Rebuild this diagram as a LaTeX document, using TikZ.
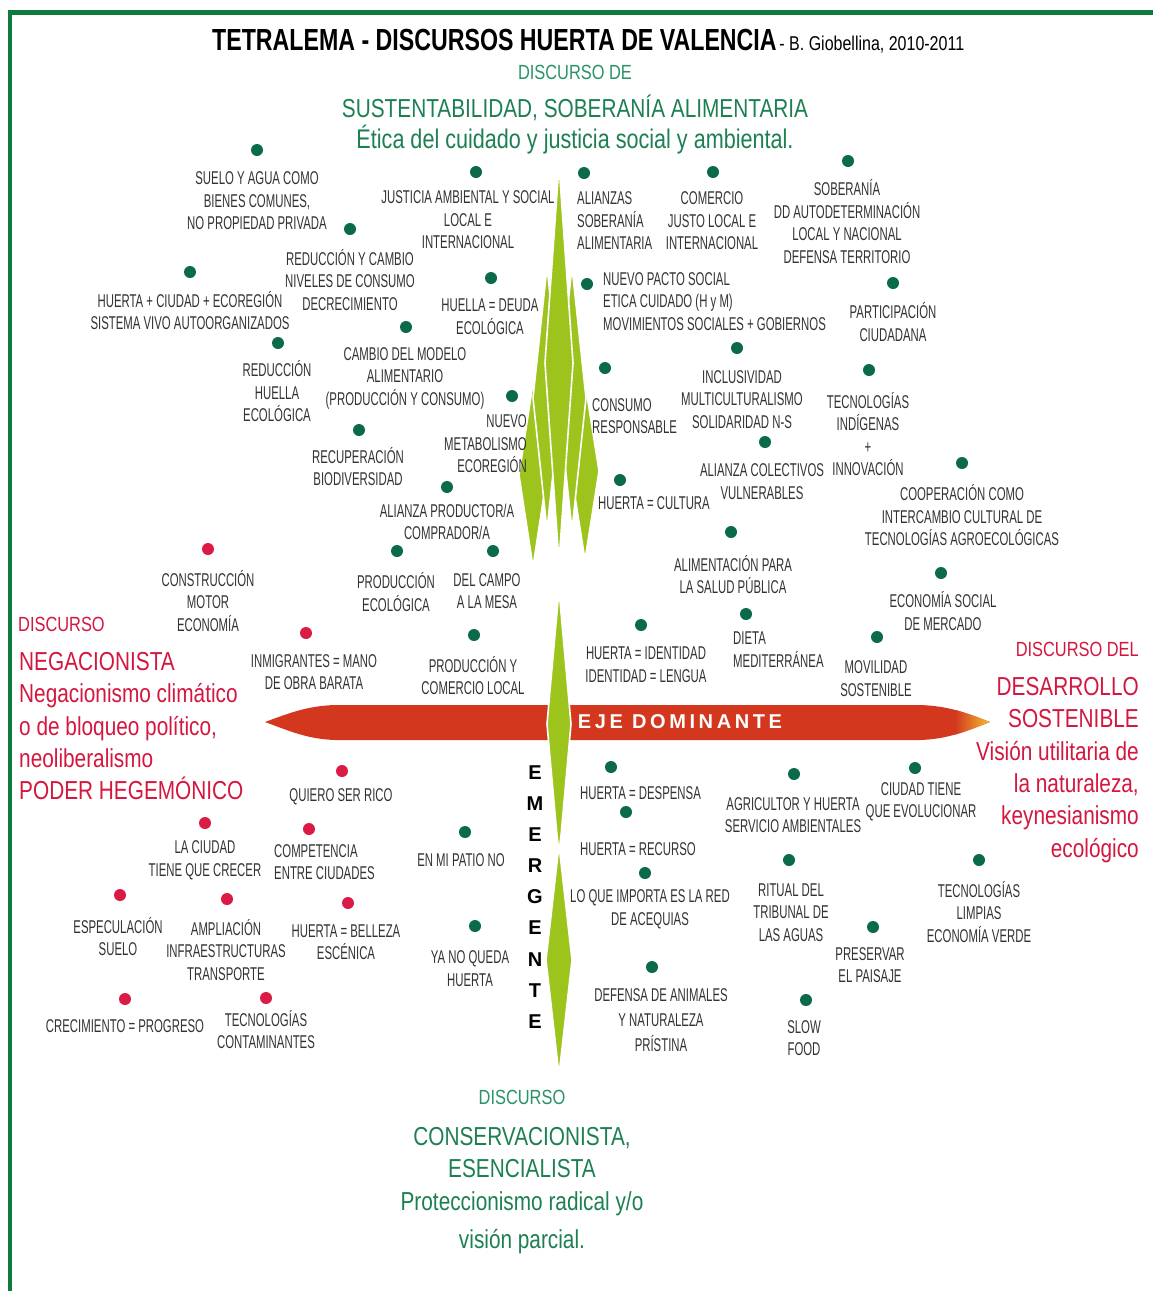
\documentclass[tikz,border=0pt]{standalone}
\usepackage{fontspec}
\setmainfont{Liberation Sans}
\newfontfamily\lblfont[FakeStretch=0.615]{Liberation Sans}
\newfontfamily\dispfont[FakeStretch=0.8]{Liberation Sans}
\newfontfamily\titfont[FakeStretch=0.76]{Liberation Sans}
\newfontfamily\ejefont[LetterSpace=18]{Liberation Sans}
\definecolor{framegreen}{HTML}{0E7A3E}
\definecolor{dotgreen}{HTML}{0B6A47}
\definecolor{headgreen}{HTML}{1C8052}
\definecolor{subgreen}{HTML}{2A9466}
\definecolor{dotred}{HTML}{DA1B45}
\definecolor{txtred}{HTML}{D4173F}
\definecolor{lblgray}{HTML}{333333}
\definecolor{spindle}{HTML}{9CC41C}
\definecolor{arrowred}{HTML}{D3381F}
\definecolor{tipyellow}{HTML}{F6C530}
\begin{document}
\begin{tikzpicture}[x=1pt,y=-1pt,
  dotG/.style={circle,fill=dotgreen,inner sep=0pt,minimum size=12pt},
  dotR/.style={circle,fill=dotred,inner sep=0pt,minimum size=12pt},
  lbl/.style={font={\lblfont\fontsize{18.5}{22.5}\selectfont},text=lblgray,align=center,inner sep=0pt},
  lblL/.style={lbl,align=left,anchor=west},
  lblR/.style={lbl,align=right,anchor=east},
  spin/.style={fill=spindle,draw=white,line width=1.6pt,line join=miter},
  disp/.style={font={\dispfont\fontsize{26}{32.4}\selectfont},inner sep=0pt},
  dispsmall/.style={font={\dispfont\fontsize{20.5}{24}\selectfont},inner sep=0pt}]
\useasboundingbox (0,0) rectangle (1153,1291);
\fill[white] (0,0) rectangle (1153,1291);
% frame
\draw[framegreen,line width=5pt] (8,12) -- (1153,12);
\draw[framegreen,line width=4pt] (10,10) -- (10,1291);

% title
\node[anchor=base west,inner sep=0pt,text=black] (title) at (212,50)
  {{\titfont\bfseries\fontsize{30.5}{34}\selectfont TETRALEMA - DISCURSOS HUERTA DE VALENCIA} {\dispfont\fontsize{20}{22}\selectfont - B. Giobellina, 2010-2011}};
\node[dispsmall,text=subgreen,anchor=base] (topdisc) at (575,79) {DISCURSO DE};
\node[disp,text=headgreen,anchor=base] (tophead) at (575,117) {SUSTENTABILIDAD, SOBERANÍA ALIMENTARIA};
\node[disp,font={\dispfont\fontsize{27}{30}\selectfont},text=headgreen,anchor=base] (topsub) at (575,148) {Ética del cuidado y justicia social y ambiental.};

% upper green spindles
\path[spin] (533,383) -- (547,475) -- (533,567) -- (519,475) -- cycle;
\path[spin] (585,383) -- (599,471) -- (585,560) -- (571,471) -- cycle;
\path[spin] (547,267) -- (561,398) -- (547,530) -- (533,398) -- cycle;
\path[spin] (572,267) -- (586,398) -- (572,530) -- (558,398) -- cycle;
\path[spin] (559,165) -- (573,363) -- (559,562) -- (545,363) -- cycle;

% red arrow
\fill[arrowred] (265,722) .. controls (292,712) and (308,706) .. (335,705) -- (920,705)
  .. controls (948,706) and (964,712) .. (990,722) .. controls (964,732) and (948,739) .. (920,740)
  -- (335,740) .. controls (308,739) and (292,732) .. (265,722) -- cycle;
\begin{scope}
\clip (265,722) .. controls (292,712) and (308,706) .. (335,705) -- (920,705)
  .. controls (948,706) and (964,712) .. (990,722) .. controls (964,732) and (948,739) .. (920,740)
  -- (335,740) .. controls (308,739) and (292,732) .. (265,722) -- cycle;
\shade[left color=arrowred,right color=tipyellow] (955,700) rectangle (992,745);
\end{scope}

% lower green spindles
\path[spin] (559,590) -- (571,724) -- (559,858) -- (547,724) -- cycle;
\path[spin] (559,845) -- (572,960) -- (559,1075) -- (546,960) -- cycle;

\node[font={\ejefont\bfseries\fontsize{20}{24}\selectfont},text=white,inner sep=0pt] (eje) at (680,722) {EJE DOMINANTE};
\node[font={\bfseries\fontsize{20}{31.1}\selectfont},align=center,anchor=north,inner sep=0pt] (emerg) at (535,765.5) {E\\M\\E\\R\\G\\E\\N\\T\\E};

% left red block
\node[dispsmall,text=txtred,anchor=base west] (ldisc) at (18,631) {DISCURSO};
\node[disp,text=txtred,align=left,anchor=north west] (lblock) at (19,652)
  {NEGACIONISTA\\Negacionismo climático\\o de bloqueo político,\\neoliberalismo\\PODER HEGEMÓNICO};
% right red block
\node[dispsmall,text=txtred,anchor=base east] (rdisc) at (1139,656) {DISCURSO DEL};
\node[disp,text=txtred,align=right,anchor=north east] (rblock) at (1139,677)
  {DESARROLLO\\SOSTENIBLE\\Visión utilitaria de\\la naturaleza,\\keynesianismo\\ecológico};
% bottom green block
\node[dispsmall,text=subgreen,anchor=base] (bdisc) at (522,1104) {DISCURSO};
\node[disp,text=headgreen,align=center,anchor=north] (bblock) at (522,1127)
  {CONSERVACIONISTA,\\ESENCIALISTA\\Proteccionismo radical y/o\\[6pt]visión parcial.};

% upper items
\node[dotG] (d1) at (257,150) {};
\node[lbl] (l1) at (257,201) {SUELO Y AGUA COMO\\BIENES COMUNES,\\NO PROPIEDAD PRIVADA};
\node[dotG] (d2) at (476,172) {};
\node[lbl] (l2) at (468,220) {JUSTICIA AMBIENTAL Y SOCIAL\\LOCAL E\\INTERNACIONAL};
\node[dotG] (d3) at (584,173) {};
\node[lblL] (l3) at (577,221) {ALIANZAS\\SOBERANÍA\\ALIMENTARIA};
\node[dotG] (d4) at (713,172) {};
\node[lbl] (l4) at (712,221) {COMERCIO\\JUSTO LOCAL E\\INTERNACIONAL};
\node[dotG] (d5) at (848,161) {};
\node[lbl] (l5) at (847,221.5) {SOBERANÍA\\DD AUTODETERMINACIÓN\\LOCAL Y NACIONAL\\DEFENSA TERRITORIO};
\node[dotG] (d6) at (350,229) {};
\node[lbl] (l6) at (350,280) {REDUCCIÓN Y CAMBIO\\NIVELES DE CONSUMO\\DECRECIMIENTO};
\node[dotG] (d7) at (190,272) {};
\node[lbl] (l7) at (190,310.5) {HUERTA + CIUDAD + ECOREGIÓN\\SISTEMA VIVO AUTOORGANIZADOS};
\node[dotG] (d8) at (491,278) {};
\node[lbl] (l8) at (490,316.5) {HUELLA = DEUDA\\ECOLÓGICA};
\node[dotG] (d9) at (587,284) {};
\node[lblL] (l9) at (603,301.5) {NUEVO PACTO SOCIAL\\ETICA CUIDADO (H y M)\\MOVIMIENTOS SOCIALES + GOBIERNOS};
\node[dotG] (d10) at (893,283) {};
\node[lbl] (l10) at (893,322) {PARTICIPACIÓN\\CIUDADANA};
\node[dotG] (d11) at (278,343) {};
\node[lbl] (l11) at (277,391.5) {REDUCCIÓN\\HUELLA\\ECOLÓGICA};
\node[dotG] (d12) at (406,327) {};
\node[lbl] (l12) at (405,378) {CAMBIO DEL MODELO\\ALIMENTARIO\\(PRODUCCIÓN Y CONSUMO)};
\node[dotG] (d13) at (512,396) {};
\node[lblR] (l13) at (527,444) {NUEVO\\METABOLISMO\\ECOREGIÓN};
\node[dotG] (d14) at (605,368) {};
\node[lblL] (l14) at (592,416) {CONSUMO\\RESPONSABLE};
\node[dotG] (d15) at (737,348) {};
\node[lbl] (l15) at (742,399.5) {INCLUSIVIDAD\\MULTICULTURALISMO\\SOLIDARIDAD N-S};
\node[dotG] (d16) at (869,370) {};
\node[lbl] (l16) at (868,434) {TECNOLOGÍAS\\INDÍGENAS\\+\\INNOVACIÓN};
\node[dotG] (d17) at (359,430) {};
\node[lbl] (l17) at (358,466.5) {RECUPERACIÓN\\BIODIVERSIDAD};
\node[dotG] (d18) at (765,442) {};
\node[lbl] (l18) at (762,481.5) {ALIANZA COLECTIVOS\\VULNERABLES};
\node[dotG] (d19) at (620,480) {};
\node[lbl] (l19) at (654,503) {HUERTA = CULTURA};
\node[dotG] (d20) at (962,463) {};
\node[lbl] (l20) at (962,515.5) {COOPERACIÓN COMO\\INTERCAMBIO CULTURAL DE\\TECNOLOGÍAS AGROECOLÓGICAS};
\node[dotG] (d21) at (447,487) {};
\node[lbl] (l21) at (447,522) {ALIANZA PRODUCTOR/A\\COMPRADOR/A};
\node[dotG] (d22) at (397,551) {};
\node[lbl] (l22) at (396,592) {PRODUCCIÓN\\ECOLÓGICA};
\node[dotG] (d23) at (493,551) {};
\node[lbl] (l23) at (487,591) {DEL CAMPO\\A LA MESA};
\node[dotG] (d24) at (731,532) {};
\node[lbl] (l24) at (733,574.5) {ALIMENTACIÓN PARA\\LA SALUD PÚBLICA};
\node[dotG] (d25) at (941,573) {};
\node[lbl] (l25) at (943,611) {ECONOMÍA SOCIAL\\DE MERCADO};
\node[dotG] (d26) at (474,635) {};
\node[lbl] (l26) at (473,675.5) {PRODUCCIÓN Y\\COMERCIO LOCAL};
\node[dotG] (d27) at (641,625) {};
\node[lbl] (l27) at (646,664.5) {HUERTA = IDENTIDAD\\IDENTIDAD = LENGUA};
\node[dotG] (d28) at (746,614) {};
\node[lblL] (l28) at (733,649.5) {DIETA\\MEDITERRÁNEA};
\node[dotG] (d29) at (877,637) {};
\node[lbl] (l29) at (876,678.5) {MOVILIDAD\\SOSTENIBLE};
\node[dotR] (d30) at (208,549) {};
\node[lbl] (l30) at (208,601) {CONSTRUCCIÓN\\MOTOR\\ECONOMÍA};
\node[dotR] (d31) at (306,633) {};
\node[lbl] (l31) at (314,672) {INMIGRANTES = MANO\\DE OBRA BARATA};

% lower items
\node[dotR] (d32) at (342,771) {};
\node[lbl] (l32) at (341,797) {QUIERO SER RICO};
\node[dotR] (d33) at (205,823) {};
\node[lbl] (l33) at (205,860.5) {LA CIUDAD\\TIENE QUE CRECER};
\node[dotR] (d34) at (309,829) {};
\node[lblL] (l34) at (274,862) {COMPETENCIA\\ENTRE CIUDADES};
\node[dotR] (d35) at (120,895) {};
\node[lbl] (l35) at (118,936.5) {ESPECULACIÓN\\SUELO};
\node[dotR] (d36) at (227,899) {};
\node[lbl] (l36) at (226,950) {AMPLIACIÓN\\INFRAESTRUCTURAS\\TRANSPORTE};
\node[dotR] (d37) at (348,903) {};
\node[lbl] (l37) at (346,942) {HUERTA = BELLEZA\\ESCÉNICA};
\node[dotR] (d38) at (125,999) {};
\node[lbl] (l38) at (125,1026) {CRECIMIENTO = PROGRESO};
\node[dotR] (d39) at (266,998) {};
\node[lbl] (l39) at (266,1029.5) {TECNOLOGÍAS\\CONTAMINANTES};
\node[dotG] (d40) at (465,832) {};
\node[lbl] (l40) at (461,860) {EN MI PATIO NO};
\node[dotG] (d41) at (475,926) {};
\node[lbl] (l41) at (470,968.5) {YA NO QUEDA\\HUERTA};
\node[dotG] (d42) at (611,767) {};
\node[lblL] (l42) at (580,793) {HUERTA = DESPENSA};
\node[dotG] (d43) at (626,812) {};
\node[lblL] (l43) at (580,849) {HUERTA = RECURSO};
\node[dotG] (d44) at (645,873) {};
\node[lbl] (l44) at (650,909.5) {LO QUE IMPORTA ES LA RED\\DE ACEQUIAS};
\node[dotG] (d45) at (794,774) {};
\node[lbl] (l45) at (793,815) {AGRICULTOR Y HUERTA\\SERVICIO AMBIENTALES};
\node[dotG] (d46) at (915,768) {};
\node[lbl] (l46) at (921,802) {CIUDAD TIENE\\QUE EVOLUCIONAR};
\node[dotG] (d47) at (789,860) {};
\node[lbl] (l47) at (791,912.5) {RITUAL DEL\\TRIBUNAL DE\\LAS AGUAS};
\node[dotG] (d48) at (979,860) {};
\node[lbl] (l48) at (979,912) {TECNOLOGÍAS\\LIMPIAS\\ECONOMÍA VERDE};
\node[dotG] (d49) at (873,927) {};
\node[lbl] (l49) at (870,965) {PRESERVAR\\EL PAISAJE};
\node[dotG] (d50) at (652,967) {};
\node[lbl,font={\lblfont\fontsize{18.5}{25}\selectfont}] (l50) at (661,1020) {DEFENSA DE ANIMALES\\Y NATURALEZA\\PRÍSTINA};
\node[dotG] (d51) at (806,1000) {};
\node[lbl] (l51) at (804,1038) {SLOW\\FOOD};
\end{tikzpicture}
\end{document}
